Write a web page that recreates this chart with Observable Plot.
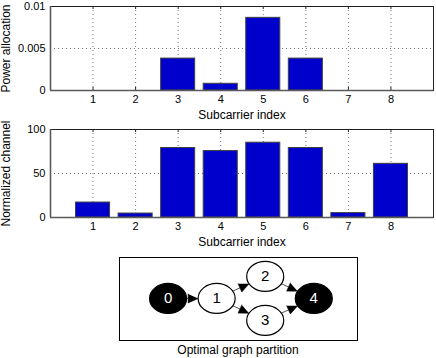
<!DOCTYPE html>
<html><head><meta charset="utf-8">
<script src="https://cdn.jsdelivr.net/npm/d3@7"></script>
<script src="https://cdn.jsdelivr.net/npm/@observablehq/plot@0.6"></script>
<style>
body{margin:0;background:#fff;}
#root{width:436px;height:358px;position:relative;font-family:"Liberation Sans",Arial,Helvetica,sans-serif;}
#root svg{position:absolute;left:0;display:block;overflow:visible;}
#caption{position:absolute;left:119px;width:238px;top:343px;text-align:center;font-size:12px;line-height:14px;color:#000;}
</style></head><body><div id="root"></div>
<script>
// ---- data ----
const subcarriers = [1, 2, 3, 4, 5, 6, 7, 8];
const powerAllocation = [0, 0, 0.0038, 0.0008, 0.00865, 0.0038, 0, 0];
const normalizedChannel = [17, 4.5, 79, 75.5, 85, 79, 5, 61];
const powerTicks = [0, 0.005, 0.01];
const channelTicks = [0, 50, 100];
const xLabel = "Subcarrier index";
const powerLabel = "Power allocation";
const channelLabel = "Normalized channel";
const graphNodes = [0, 1, 2, 3, 4];
const nodeCol = [0, 1, 2, 2, 3];
const nodeRow = [0, 0, 1, -1, 0];
const graphEdges = [[0, 1], [1, 2], [1, 3], [2, 4], [3, 4]];
const terminalNodes = [0, 4];
const graphCaption = "Optimal graph partition";

const FONT = '"Liberation Sans", Arial, Helvetica, sans-serif';
const root = document.getElementById("root");

function barChart(values, ticks, yLabel, opts) {
  const {height, marginTop, marginBottom, yMax, top} = opts;
  const data = subcarriers.map((s, i) => ({s, v: values[i]}));
  const plotH = height - marginTop - marginBottom;
  const tickLen = yMax * 3 / plotH;
  const svg = Plot.plot({
    width: 436, height, marginLeft: 50, marginRight: 3, marginTop, marginBottom,
    style: {fontFamily: FONT, fontSize: "11px", color: "#000", background: "transparent", overflow: "visible"},
    x: {domain: [0, 9], ticks: subcarriers, tickSize: 0, tickPadding: 5, tickFormat: d => String(d), label: null},
    y: {domain: [0, yMax], ticks: ticks, tickSize: 0, tickPadding: 5, tickFormat: d => String(d), label: null},
    marks: [
      Plot.ruleX(subcarriers, {x: d => d, stroke: "#777", strokeDasharray: "1,3"}),
      Plot.ruleY(ticks.filter(t => t > 0 && t < yMax), {y: d => d, stroke: "#777", strokeDasharray: "1,3"}),
      Plot.ruleX(subcarriers, {x: d => d, y1: yMax, y2: yMax - tickLen, stroke: "#222"}),
      Plot.ruleX(subcarriers, {x: d => d, y1: 0, y2: tickLen, stroke: "#222"}),
      Plot.rectY(data, {x1: d => d.s - 0.4, x2: d => d.s + 0.4, y1: 0, y2: "v", fill: "#0000cc", stroke: "#404040", strokeWidth: 1}),
      Plot.frame({stroke: "#222"}),
      Plot.ruleY([0], {stroke: "#5a5a5a", strokeWidth: 1.6}),
      Plot.ruleX([0], {stroke: "#5a5a5a", strokeWidth: 1.6}),
      Plot.text([xLabel], {frameAnchor: "bottom", dy: 25, fontSize: 12, fill: "#000", textAnchor: "middle", lineAnchor: "middle"}),
      Plot.text([yLabel], {frameAnchor: "left", dx: -44, rotate: -90, fontSize: 12, fill: "#000", textAnchor: "middle", lineAnchor: "middle"})
    ]
  });
  svg.style.top = top + "px";
  root.appendChild(svg);
}

barChart(powerAllocation, powerTicks, powerLabel, {height: 122, marginTop: 6, marginBottom: 32, yMax: 0.01, top: 0});
barChart(normalizedChannel, channelTicks, channelLabel, {height: 126, marginTop: 7, marginBottom: 31, yMax: 100, top: 122});

// ---- graph ----
(function () {
  const W = 436, H = 93, mL = 119, mR = 79, mT = 9, mB = 1;
  const xDomain = [-1.0, 3.9], yDomain = [-1.91, 1.86];
  const kx = (W - mL - mR) / (xDomain[1] - xDomain[0]);
  const ky = (H - mT - mB) / (yDomain[1] - yDomain[0]);
  const RX = 18.5, RY = 15;
  const K = 0.5523;
  const ellipse = {
    draw(ctx) {
      ctx.moveTo(RX, 0);
      ctx.bezierCurveTo(RX, K * RY, K * RX, RY, 0, RY);
      ctx.bezierCurveTo(-K * RX, RY, -RX, K * RY, -RX, 0);
      ctx.bezierCurveTo(-RX, -K * RY, -K * RX, -RY, 0, -RY);
      ctx.bezierCurveTo(K * RX, -RY, RX, -K * RY, RX, 0);
      ctx.closePath();
    }
  };
  const nodes = graphNodes.map((n, i) => ({n, x: nodeCol[i], y: nodeRow[i], terminal: terminalNodes.includes(n)}));
  const shafts = [], heads = [];
  const L = 10, HW = 4.5;
  graphEdges.forEach(([a, b], e) => {
    const ax = nodeCol[a] * kx, ay = -nodeRow[a] * ky;
    const bx = nodeCol[b] * kx, by = -nodeRow[b] * ky;
    const dx = bx - ax, dy = by - ay;
    const t = 1 / Math.sqrt((dx / RX) ** 2 + (dy / RY) ** 2);
    const len = Math.hypot(dx, dy), ux = dx / len, uy = dy / len;
    const sx = ax + t * dx, sy = ay + t * dy;
    const ex = bx - t * dx, ey = by - t * dy;
    const bxp = ex - L * ux, byp = ey - L * uy;
    const nx = -uy, ny = ux;
    const toData = (px, py) => ({x: px / kx, y: -py / ky, e});
    shafts.push(toData(sx, sy), toData(bxp + 0.5 * ux, byp + 0.5 * uy));
    heads.push(toData(ex, ey), toData(bxp + HW * nx, byp + HW * ny), toData(bxp - HW * nx, byp - HW * ny));
  });
  const svg = Plot.plot({
    width: W, height: H, marginLeft: mL, marginRight: mR, marginTop: mT, marginBottom: mB,
    style: {fontFamily: FONT, fontSize: "15px", color: "#000", background: "transparent", overflow: "visible"},
    x: {domain: xDomain, axis: null},
    y: {domain: yDomain, axis: null},
    marks: [
      Plot.frame({stroke: "#000", strokeWidth: 1}),
      Plot.line(shafts, {x: "x", y: "y", z: "e", stroke: "#555", strokeWidth: 1}),
      Plot.line(heads, {x: "x", y: "y", z: "e", fill: "#000", stroke: "#000", strokeWidth: 0.6}),
      Plot.dot(nodes.filter(d => d.terminal), {x: "x", y: "y", r: 15, symbol: ellipse, fill: "#000", stroke: "#000", strokeWidth: 1.2}),
      Plot.dot(nodes.filter(d => !d.terminal), {x: "x", y: "y", r: 15, symbol: ellipse, fill: "#fff", stroke: "#000", strokeWidth: 1.2}),
      Plot.text(nodes.filter(d => d.terminal), {x: "x", y: "y", text: d => String(d.n), fill: "#fff", fontSize: 15}),
      Plot.text(nodes.filter(d => !d.terminal), {x: "x", y: "y", text: d => String(d.n), fill: "#000", fontSize: 15})
    ]
  });
  svg.style.top = "248px";
  root.appendChild(svg);
  const cap = document.createElement("div");
  cap.id = "caption";
  cap.textContent = graphCaption;
  root.appendChild(cap);
})();
</script>
</body></html>
